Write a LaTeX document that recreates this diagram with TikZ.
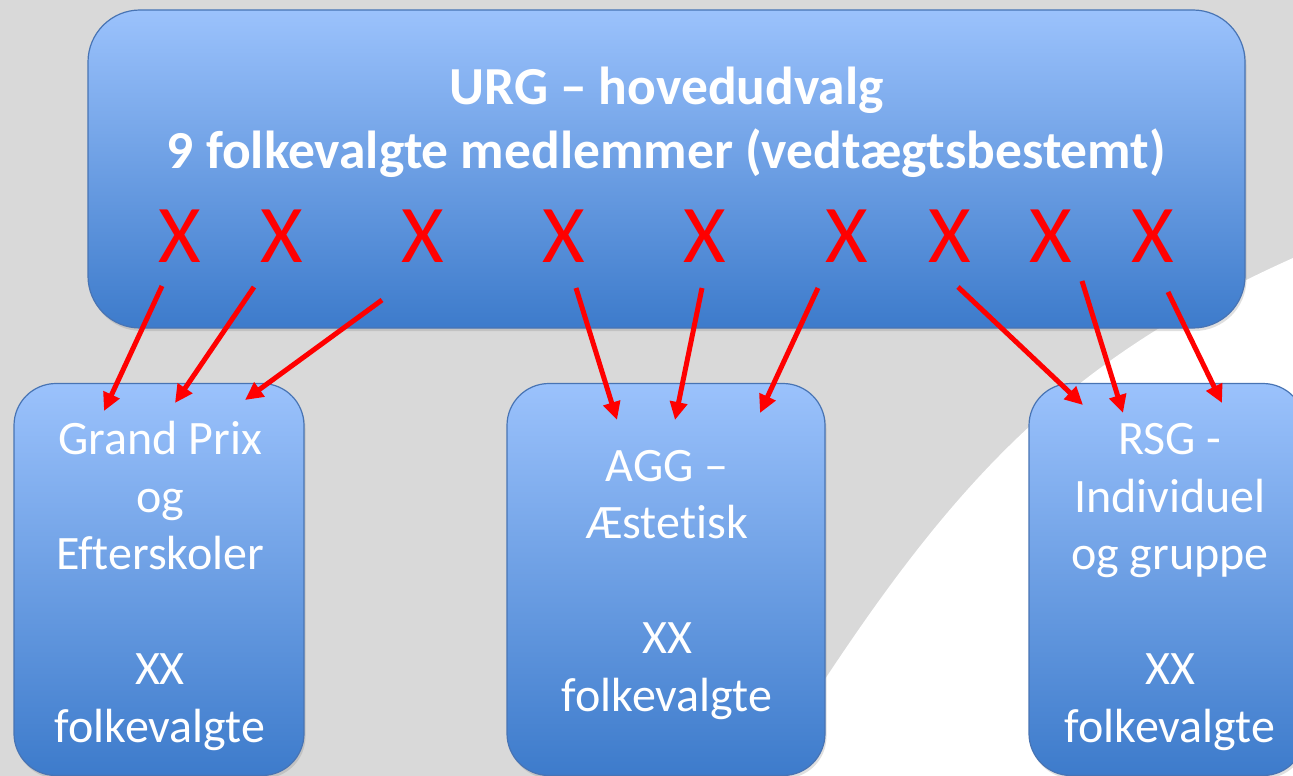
\documentclass[tikz,border=0pt]{standalone}
\usepackage{fontspec}
\setmainfont{Carlito}[Ligatures={NoCommon}]
\usetikzlibrary{arrows.meta,shadows}
\definecolor{bggray}{RGB}{217,217,217}
\definecolor{boxtop}{RGB}{155,194,252}
\definecolor{boxbot}{RGB}{61,123,203}
\definecolor{boxline}{RGB}{72,116,180}
\begin{document}
\begin{tikzpicture}[x=1pt,y=-1pt,
  box/.style={draw=boxline,line width=1.2pt,inner sep=0pt,top color=boxtop,bottom color=boxbot,
    drop shadow={shadow xshift=1.5pt,shadow yshift=-3pt,opacity=0.25}},
  title/.style={text=white,font=\fontsize{53.5}{64}\selectfont\bfseries,inner sep=0pt},
  redx/.style={text=red,font=\fontsize{82}{90}\selectfont,inner sep=0pt},
  subtext/.style={text=white,font=\fontsize{48}{57.5}\selectfont,align=center,inner sep=0pt},
  redarrow/.style={draw=red,line width=5pt,-{Triangle[length=18pt,width=17pt]}}]
\useasboundingbox (0,0) rectangle (1293,776);
\clip (0,0) rectangle (1293,776);
\fill[bggray] (0,0) rectangle (1293,776);
\fill[white] (763,776) .. controls (933,504) and (1043,370) .. (1293,258) -- (1293,776) -- cycle;
% hovedudvalg
\node[box,rounded corners=52pt,minimum width=1157pt,minimum height=318pt] (urg) at (666.5,169) {};
\node[title,anchor=base] (urgname) at (666.5,104) {URG – hovedudvalg};
\node[title,anchor=base] (urgsize) at (666.5,168) {9 folkevalgte medlemmer (vedtægtsbestemt)};
\foreach \x [count=\i] in {180,282,423,564,705,847,950,1051,1153}
  \node[redx,anchor=base] (x\i) at (\x,262) {X};
% underudvalg
\node[box,rounded corners=42pt,minimum width=290pt,minimum height=392pt] (gp) at (159,579.5) {};
\node[box,rounded corners=42pt,minimum width=318pt,minimum height=392pt] (agg) at (666,579.5) {};
\node[box,rounded corners=42pt,minimum width=276pt,minimum height=392pt] (rsg) at (1167,579.5) {};
\node[subtext,anchor=base] (gptext) at (160,742) {Grand Prix\\og\\Efterskoler\\[57.5pt]XX\\folkevalgte};
\node[subtext,anchor=base] (aggtext) at (667,711) {AGG –\\Æstetisk\\[57.5pt]XX\\folkevalgte};
\node[subtext,anchor=base] (rsgtext) at (1170,742) {RSG -\\Individuel\\og gruppe\\[57.5pt]XX\\folkevalgte};
% pile
\foreach \sx/\sy/\ex/\ey [count=\i] in {162/286/104/411,254/287/175/403,382/300/245/400,
    576/288/617/420,702/288/675/420,818/288/760/413,958/287/1083/405,1082/281/1123/413,1168/292/1222/403}{
  \coordinate (s\i) at (\sx,\sy);
  \coordinate (e\i) at (\ex,\ey);
  \draw[redarrow] (s\i) -- (e\i);
}
\end{tikzpicture}
\end{document}
